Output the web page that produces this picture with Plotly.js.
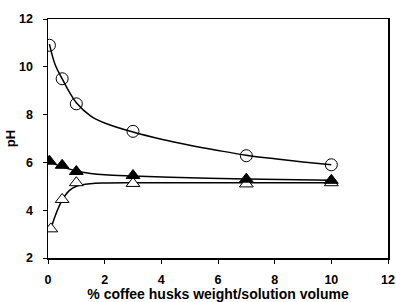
<!DOCTYPE html>
<html>
<head>
<meta charset="utf-8">
<script src="https://cdn.plot.ly/plotly-3.0.1.min.js"></script>
<style>html,body{margin:0;padding:0;background:#fff;}#chart{width:396px;height:302px;}</style>
</head>
<body>
<div id="chart"></div>
<script>
// measured points
var circX = [0.05, 0.5, 1, 3, 7, 10];
var circY = [10.9, 9.5, 8.45, 7.3, 6.28, 5.9];
var filledX = [0.05, 0.5, 1, 3, 7, 10];
var filledY = [6.05, 5.88, 5.62, 5.45, 5.3, 5.25];
var openX = [0.1, 0.5, 1, 3, 7, 10];
var openY = [3.22, 4.45, 5.15, 5.12, 5.1, 5.15];
// fitted curves
var circFitX = [0.05, 0.25, 0.5, 0.75, 1, 1.5, 2, 3, 4, 5, 6, 7, 8, 9, 10];
var circFitY = [10.95, 10.1, 9.5, 8.95, 8.5, 7.95, 7.65, 7.27, 6.97, 6.72, 6.5, 6.3, 6.15, 6.02, 5.9];
var filledFitX = [0.05, 0.25, 0.5, 1, 1.5, 2, 3, 5, 7, 10];
var filledFitY = [6.05, 5.93, 5.82, 5.64, 5.54, 5.48, 5.43, 5.36, 5.31, 5.25];
var openFitX = [0.1, 0.25, 0.5, 0.75, 1, 1.5, 2, 3, 5, 7, 10];
var openFitY = [3.2, 3.75, 4.42, 4.82, 5.0, 5.11, 5.14, 5.15, 5.15, 5.15, 5.15];
var xTicks = [0, 2, 4, 6, 8, 10, 12];
var yTicks = [2, 4, 6, 8, 10, 12];

var fitLine = {color: '#000', width: 1.5, shape: 'spline'};
var traces = [
  {x: circFitX, y: circFitY, mode: 'lines', line: fitLine, hoverinfo: 'skip'},
  {x: filledFitX, y: filledFitY, mode: 'lines', line: fitLine, hoverinfo: 'skip'},
  {x: openFitX, y: openFitY, mode: 'lines', line: fitLine, hoverinfo: 'skip'},
  {x: circX, y: circY, mode: 'markers', marker: {symbol: 'circle-open', size: 12, color: '#000', line: {width: 1, color: '#000'}}},
  {x: openX, y: openY, mode: 'markers', marker: {symbol: 'triangle-up', size: 12, color: '#fff', line: {width: 1, color: '#000'}}},
  {x: filledX, y: filledY, mode: 'markers', marker: {symbol: 'triangle-up', size: 12, color: '#000', line: {width: 1, color: '#000'}}}
];

var FAM = 'Liberation Sans, Arial, sans-serif';
var tickFont = {family: FAM, size: 12.5, color: '#000', weight: 'bold'};
var layout = {
  width: 396, height: 302,
  margin: {l: 48, r: 8, t: 19, b: 44},
  showlegend: false,
  paper_bgcolor: '#fff', plot_bgcolor: '#fff',
  font: {family: FAM, color: '#000'},
  xaxis: {
    range: [0, 12], tickvals: xTicks, ticktext: xTicks.map(String), automargin: false,
    showgrid: false, zeroline: false, showline: true, linecolor: '#000', linewidth: 1.5, mirror: true,
    ticks: 'outside', ticklen: 4, tickcolor: '#000', tickwidth: 1, ticklabelstandoff: 5,
    tickfont: tickFont,
    title: {text: '% coffee husks weight/solution volume', font: {family: FAM, size: 14, color: '#000', weight: 'bold'}, standoff: 0}
  },
  yaxis: {
    range: [2, 12], tickvals: yTicks, ticktext: yTicks.map(String), automargin: false,
    showgrid: false, zeroline: false, showline: true, linecolor: '#000', linewidth: 1.5, mirror: true,
    ticks: 'outside', ticklen: 4, tickcolor: '#000', tickwidth: 1, ticklabelstandoff: 7,
    tickfont: tickFont,
    title: {text: 'pH', font: {family: FAM, size: 13, color: '#000', weight: 'bold'}, standoff: 0}
  }
};
Plotly.newPlot('chart', traces, layout, {staticPlot: true, displayModeBar: false});
</script>
</body>
</html>
